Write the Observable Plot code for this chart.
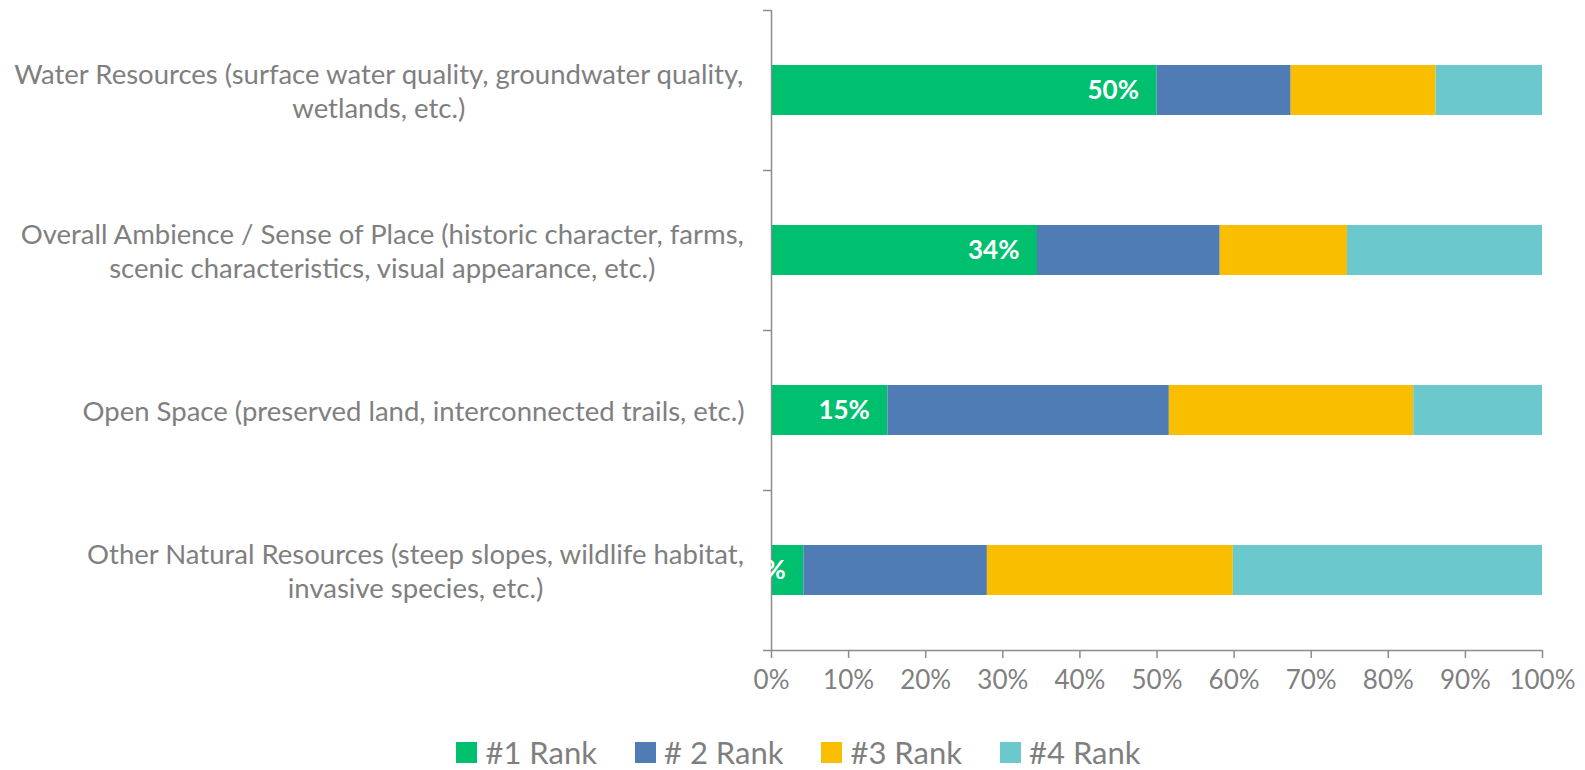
<!DOCTYPE html>
<html>
<head>
<meta charset="utf-8">
<script src="https://cdn.jsdelivr.net/npm/d3@7"></script>
<script src="https://cdn.jsdelivr.net/npm/@observablehq/plot@0.6"></script>
<style>
  html, body { margin: 0; padding: 0; background: #fff; }
  body { width: 1585px; height: 770px; overflow: hidden; font-family: Lato, sans-serif; }
  #legend { display: flex; justify-content: center; align-items: center; gap: 38px; height: 40px; margin-top: 12px; color: #7f7f7f; font-size: 31px; padding-left: 12px; }
  #legend .item { display: flex; align-items: center; gap: 8px; }
  #legend .sw { width: 21px; height: 21px; display: inline-block; }
</style>
</head>
<body>
<div id="chart"></div>
<div id="legend"></div>
<script>
const categories = [
  "Water Resources",
  "Overall Ambience / Sense of Place",
  "Open Space",
  "Other Natural Resources"
];
const categoryLines = [
  ["Water Resources (surface water quality, groundwater quality,", "wetlands, etc.)"],
  ["Overall Ambience / Sense of Place (historic character, farms,", "scenic characteristics, visual appearance, etc.)"],
  ["Open Space (preserved land, interconnected trails, etc.)"],
  ["Other Natural Resources (steep slopes, wildlife habitat,", "invasive species, etc.)"]
];
const ranks = ["#1 Rank", "# 2 Rank", "#3 Rank", "#4 Rank"];
const rank1 = [50.0, 34.5, 15.1, 4.2];
const rank2 = [17.4, 23.7, 36.5, 23.8];
const rank3 = [18.8, 16.5, 31.7, 31.9];
const rank4 = [13.8, 25.3, 16.7, 40.1];
const rank1Labels = ["50%", "34%", "15%", "4%"];
const xTicks = [0, 10, 20, 30, 40, 50, 60, 70, 80, 90, 100];
const rankColors = ["#00BF6F", "#507CB6", "#F9BE00", "#6BC8CD"];

// layout
const W = 1585, H = 720;
const mL = 771, mR = 43, mT = 10, mB = 70;
const step = (H - mT - mB) / categories.length;
const labelFont = 27.5;
const gray = "#7f7f7f";

const series = [rank1, rank2, rank3, rank4];
const table = [];
categories.forEach((c, i) => {
  ranks.forEach((r, j) => table.push({category: c, rank: r, value: series[j][i]}));
});

// measure label blocks so lines are centered within a right-aligned block
const ctx = document.createElement("canvas").getContext("2d");
ctx.font = `${labelFont}px Lato`;
const rightEdge = 27; // px gap from axis
const labelMarks = categories.map((c, i) => {
  const lines = categoryLines[i];
  const bw = Math.max(...lines.map(l => ctx.measureText(l).width));
  return Plot.text([c], {
    x: () => 0, y: d => d,
    text: () => lines.join("\n"),
    dx: -(rightEdge + bw / 2),
    textAnchor: "middle", lineAnchor: "middle",
    lineHeight: 34 / labelFont,
    fontSize: labelFont, fill: gray
  });
});

const chart = Plot.plot({
  width: W, height: H,
  marginLeft: mL, marginRight: mR, marginTop: mT, marginBottom: mB,
  style: {fontFamily: "Lato, sans-serif", color: gray, background: "white"},
  x: {domain: [0, 100], axis: null},
  y: {domain: categories, padding: 0, axis: null},
  color: {domain: ranks, range: rankColors},
  marks: [
    Plot.barX(table, {x: "value", y: "category", fill: "rank", insetTop: 55, insetBottom: 55, order: ranks}),
    Plot.ruleX([0], {stroke: "#8c8c8c", strokeWidth: 1.5}),
    Plot.ruleY(categories, {y: d => d, x1: 0, x2: 0, insetLeft: -8, dy: -step / 2, stroke: "#8c8c8c", strokeWidth: 1.5}),
    Plot.ruleY([categories[categories.length - 1]], {y: d => d, x1: 0, x2: 100, insetLeft: -8, dy: step / 2, stroke: "#8c8c8c", strokeWidth: 1.5}),
    Plot.axisX({ticks: xTicks, tickFormat: d => d + "%", tickSize: 8, tickPadding: 12, fontSize: 26, stroke: "#8c8c8c", strokeWidth: 1.5, fill: gray, label: null}),
    Plot.text(categories, {x: (d, i) => rank1[categories.indexOf(d)], y: d => d, text: d => rank1Labels[categories.indexOf(d)], dx: -18, textAnchor: "end", fill: "white", fontWeight: "bold", fontSize: 26}),
    ...labelMarks
  ]
});
document.getElementById("chart").appendChild(chart);

const legend = document.getElementById("legend");
ranks.forEach((r, j) => {
  const item = document.createElement("div");
  item.className = "item";
  const sw = document.createElement("span");
  sw.className = "sw";
  sw.style.background = rankColors[j];
  const t = document.createElement("span");
  t.textContent = r;
  item.appendChild(sw);
  item.appendChild(t);
  legend.appendChild(item);
});
</script>
</body>
</html>
